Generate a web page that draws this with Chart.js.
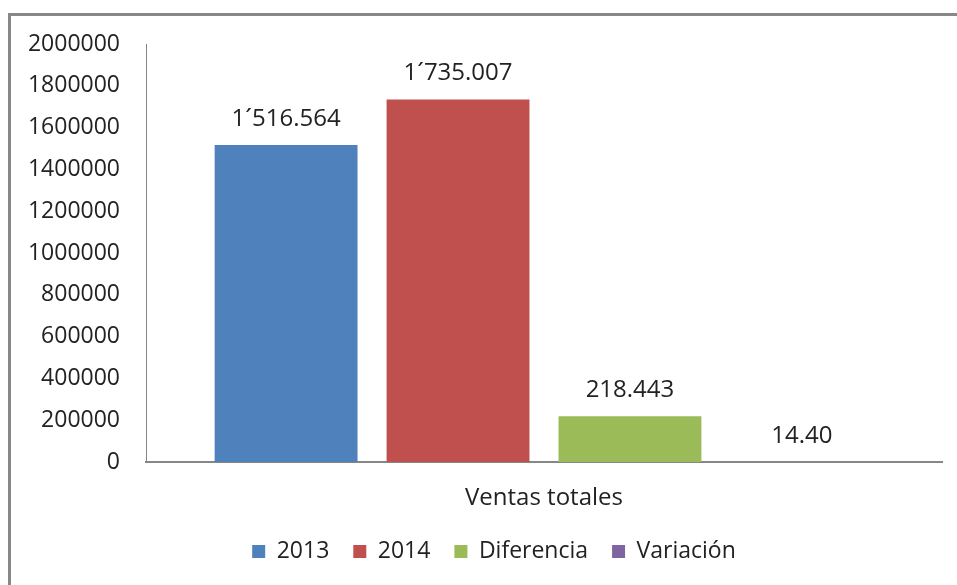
<!DOCTYPE html>
<html lang="es">
  <head>
    <meta charset="UTF-8" />
    <title>Ventas totales</title>
    <script src="https://cdn.jsdelivr.net/npm/chart.js"></script>
    <style>
      body { margin: 0; background: #fff; }
      #wrap { position: relative; width: 957px; height: 585px; overflow: hidden; }
      #frame {
        position: absolute; left: 8px; top: 13px; width: 1200px; height: 800px;
        border-left: 3px solid #878787; border-top: 3px solid #878787;
        pointer-events: none;
      }
    </style>
  </head>
  <body>
    <div id="wrap">
      <canvas id="myChart" width="957" height="585"></canvas>
      <div id="frame"></div>
    </div>
    <script>
      // data
      const categories = ["Ventas totales"];
      const seriesNames = ["2013", "2014", "Diferencia", "Variación"];
      const seriesValues = [1516564, 1735007, 218443, 14.4];
      const valueLabels = ["1´516.564", "1´735.007", "218.443", "14.40"];
      const colors = ["#4F81BD", "#C0504D", "#9BBB59", "#8064A2"];

      const textColor = "#222";
      const fontFamily = "'Open Sans', sans-serif";

      // draws the value text above each bar
      const valueLabelPlugin = {
        id: "valueLabels",
        afterDatasetsDraw(chart) {
          const ctx = chart.ctx;
          ctx.save();
          ctx.font = "24px " + fontFamily;
          ctx.fillStyle = textColor;
          ctx.textAlign = "center";
          ctx.textBaseline = "middle";
          chart.data.datasets.forEach((ds, i) => {
            const bar = chart.getDatasetMeta(i).data[0];
            ctx.fillText(valueLabels[i], bar.x, bar.y - 26);
          });
          ctx.restore();
        },
      };

      // nudge the legend a little to the right, like the original
      const legendShift = {
        id: "legendShift",
        afterLayout(chart) {
          chart.legend.left += 23;
          chart.legend.right += 23;
        },
      };

      new Chart(document.getElementById("myChart"), {
        type: "bar",
        data: {
          labels: categories,
          datasets: seriesNames.map((name, i) => ({
            label: name,
            data: [seriesValues[i]],
            backgroundColor: colors[i],
            borderWidth: 0,
            barPercentage: 0.831,
            categoryPercentage: 0.864,
          })),
        },
        options: {
          responsive: false,
          animation: false,
          layout: { padding: { top: 44, right: 15, bottom: 12, left: 0 } },
          scales: {
            y: {
              min: 0,
              max: 2000000,
              ticks: {
                stepSize: 200000,
                padding: 26,
                color: textColor,
                font: { family: fontFamily, size: 23 },
                callback: (v) => String(v),
              },
              grid: { display: false, drawTicks: false },
              border: { display: true, color: "#868686", width: 1 },
              afterFit(scale) { scale.width = 146; },
            },
            x: {
              ticks: {
                padding: 22,
                color: textColor,
                font: { family: fontFamily, size: 24 },
              },
              grid: { display: false, drawTicks: false },
              border: { display: true, color: "#868686", width: 2 },
              afterFit(scale) { scale.height = 54; },
            },
          },
          plugins: {
            tooltip: { enabled: false },
            legend: {
              position: "bottom",
              labels: {
                color: textColor,
                font: { family: fontFamily, size: 23 },
                boxWidth: 13,
                boxHeight: 13,
                padding: 24,
              },
            },
          },
        },
        plugins: [valueLabelPlugin, legendShift],
      });
    </script>
  </body>
</html>
